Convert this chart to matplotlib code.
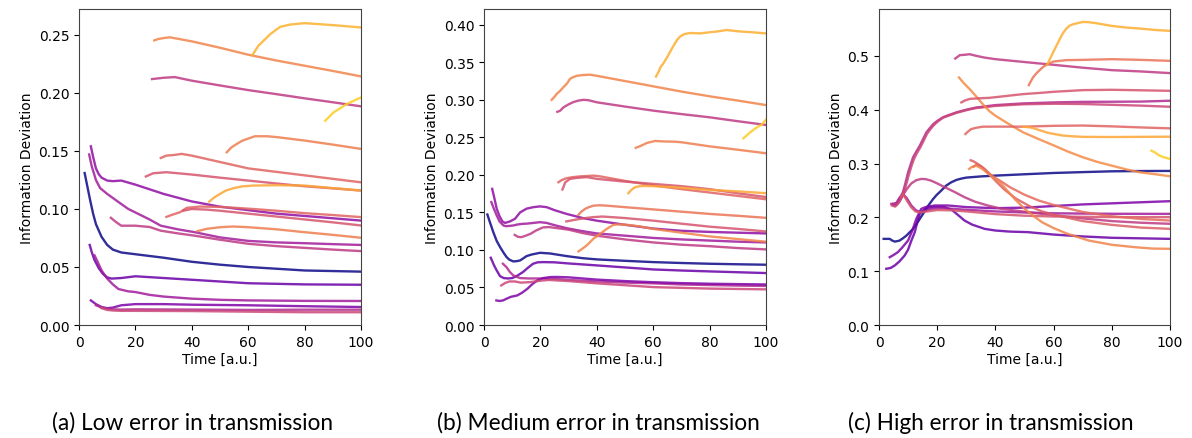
import matplotlib
matplotlib.use("Agg")
import matplotlib.pyplot as plt

# ---------------- (a) low error ----------------
low_lines = [
    ([2, 3, 4, 5, 6, 8, 10, 12, 15, 20, 30, 40, 50, 60, 70, 80, 90, 100],
     [0.131, 0.119, 0.107, 0.096, 0.087, 0.076, 0.069, 0.065, 0.0625, 0.061, 0.058, 0.0545, 0.052, 0.050, 0.0485, 0.047, 0.0465, 0.046]),
    ([4.2, 5, 6, 7, 8, 10, 12, 15, 20, 30, 40, 50, 60, 70, 80, 90, 100],
     [0.154, 0.145, 0.135, 0.130, 0.127, 0.1245, 0.124, 0.1245, 0.121, 0.113, 0.1065, 0.102, 0.099, 0.096, 0.094, 0.092, 0.090]),
    ([3.6, 4.5, 6, 7.5, 10, 14, 17.5, 20, 25, 29, 35, 41, 50, 60, 70, 80, 90, 100],
     [0.147, 0.137, 0.125, 0.118, 0.113, 0.106, 0.100, 0.097, 0.091, 0.0856, 0.0825, 0.080, 0.0755, 0.0725, 0.0712, 0.0705, 0.0697, 0.069]),
    ([11.3, 13, 15, 17, 20, 25, 29, 35, 41, 50, 60, 70, 80, 90, 100],
     [0.0924, 0.089, 0.0856, 0.0856, 0.0856, 0.0845, 0.0813, 0.079, 0.077, 0.0735, 0.070, 0.068, 0.0665, 0.065, 0.0637]),
    ([3.8, 4.5, 5.5, 7, 8.5, 10, 11.5, 15, 20, 30, 40, 50, 60, 80, 100],
     [0.069, 0.063, 0.056, 0.049, 0.044, 0.041, 0.040, 0.0405, 0.042, 0.0405, 0.039, 0.0375, 0.036, 0.035, 0.0347]),
    ([5.5, 6.5, 8, 10, 12, 14, 17.5, 20, 25, 30, 40, 50, 60, 80, 100],
     [0.060, 0.055, 0.047, 0.040, 0.035, 0.031, 0.029, 0.0284, 0.026, 0.0245, 0.0227, 0.0217, 0.0212, 0.0208, 0.0207]),
    ([4.2, 6, 8, 10, 12, 15, 20, 30, 40, 60, 80, 100],
     [0.0212, 0.018, 0.0155, 0.0145, 0.015, 0.017, 0.018, 0.018, 0.0175, 0.017, 0.0162, 0.0155]),
    ([6, 8, 10, 12, 15, 20, 40, 60, 80, 100],
     [0.017, 0.015, 0.014, 0.0135, 0.0133, 0.0135, 0.0133, 0.013, 0.0132, 0.0132]),
    ([8, 10, 12, 15, 20, 40, 60, 80, 100],
     [0.0145, 0.013, 0.0125, 0.0122, 0.0122, 0.012, 0.0115, 0.011, 0.011]),
    ([26.7, 28, 29.9, 32.2, 35.8, 40, 50, 60, 70, 80, 90, 100],
     [0.2453, 0.2465, 0.2473, 0.248, 0.2464, 0.2445, 0.239, 0.233, 0.228, 0.2235, 0.219, 0.2143]),
    ([61.5, 63.6, 66, 67.8, 71.3, 74.9, 80, 90, 100],
     [0.2327, 0.2407, 0.2464, 0.2507, 0.257, 0.259, 0.2602, 0.2585, 0.2565]),
    ([25.9, 29.9, 34, 40, 50, 60, 70, 80, 90, 100],
     [0.212, 0.2131, 0.2137, 0.2106, 0.2065, 0.2025, 0.199, 0.1954, 0.192, 0.1885]),
    ([87.3, 90.3, 95, 100],
     [0.1761, 0.1833, 0.1905, 0.1962]),
    ([52.4, 54, 55.9, 58, 62.4, 66.6, 70, 80, 90, 100],
     [0.1489, 0.153, 0.156, 0.159, 0.1627, 0.1627, 0.162, 0.159, 0.1555, 0.1518]),
    ([29, 31, 33.5, 36.4, 40, 50, 60, 70, 80, 90, 100],
     [0.144, 0.146, 0.1465, 0.1475, 0.146, 0.1405, 0.135, 0.132, 0.129, 0.126, 0.123]),
    ([23.7, 26.3, 31, 40, 50, 60, 70, 80, 90, 100],
     [0.128, 0.1308, 0.1317, 0.1297, 0.127, 0.1245, 0.122, 0.1196, 0.1178, 0.1159]),
    ([46.2, 48, 50, 52, 54.7, 58, 61.8, 70, 80, 90, 100],
     [0.1064, 0.110, 0.113, 0.1158, 0.1179, 0.1195, 0.1202, 0.1205, 0.1202, 0.118, 0.1159]),
    ([31, 33, 35.8, 38.2, 42.9, 50, 60, 70, 80, 90, 100],
     [0.0932, 0.095, 0.0972, 0.101, 0.1021, 0.1018, 0.1003, 0.0985, 0.0964, 0.0948, 0.093]),
    ([37, 40, 45, 50, 60, 70, 80, 90, 100],
     [0.0985, 0.100, 0.0995, 0.0985, 0.096, 0.0935, 0.091, 0.0885, 0.0858]),
    ([42, 45.3, 50, 54.7, 60, 70, 80, 90, 100],
     [0.0809, 0.0829, 0.0843, 0.0849, 0.0843, 0.0825, 0.080, 0.0777, 0.0752]),
]
low_shades = [0.0, 0.3, 0.35, 0.45, 0.2, 0.35, 0.25, 0.4, 0.5,
              0.7, 0.83, 0.45, 0.9, 0.68, 0.6, 0.55, 0.8, 0.6, 0.55, 0.68]

# ---------------- (b) medium error ----------------
medium_lines = [
    ([1.2, 2, 3.3, 4.5, 5.7, 7, 8, 9, 10.4, 11.5, 12.8, 14, 15.1, 17, 19.9, 23.4, 29.3, 35, 40, 50, 60, 70, 80, 90, 100],
     [0.1472, 0.138, 0.1237, 0.112, 0.1038, 0.096, 0.0905, 0.087, 0.0847, 0.085, 0.086, 0.089, 0.0918, 0.094, 0.0962, 0.0953, 0.0918, 0.089, 0.0874, 0.0855, 0.0838, 0.0826, 0.0816, 0.0809, 0.0803]),
    ([2.4, 3.5, 4.5, 5.7, 7, 8.5, 10, 11.5, 13.8, 15.5, 17.4, 19, 21, 25, 30, 40, 50, 60, 70, 80, 90, 100],
     [0.0896, 0.080, 0.0727, 0.065, 0.0625, 0.062, 0.0625, 0.065, 0.0705, 0.076, 0.0816, 0.0835, 0.0838, 0.0835, 0.082, 0.0794, 0.0767, 0.074, 0.0726, 0.0714, 0.0703, 0.0692]),
    ([6.7, 8, 9.2, 10.4, 12.8, 16, 20, 25, 30, 40, 50, 60, 70, 80, 90, 100],
     [0.0816, 0.077, 0.0705, 0.066, 0.0625, 0.062, 0.062, 0.0615, 0.060, 0.058, 0.0565, 0.0555, 0.054, 0.0532, 0.0525, 0.052]),
    ([4.4, 5.5, 6.7, 8, 9.5, 11.8, 13.5, 15.4, 17, 18.9, 21, 23.6, 26, 30, 40, 50, 60, 70, 80, 90, 100],
     [0.0327, 0.032, 0.0327, 0.035, 0.0375, 0.0394, 0.043, 0.0483, 0.054, 0.0594, 0.0625, 0.0639, 0.064, 0.0635, 0.0605, 0.0585, 0.057, 0.0558, 0.055, 0.0545, 0.054]),
    ([6.1, 7.5, 9, 11, 13, 16, 20, 23, 30, 40, 50, 60, 70, 80, 90, 100],
     [0.0527, 0.056, 0.058, 0.058, 0.0565, 0.057, 0.059, 0.060, 0.0585, 0.0555, 0.053, 0.0505, 0.0495, 0.0485, 0.048, 0.0475]),
    ([2.9, 3.5, 4.5, 5.5, 6.5, 7.5, 9.2, 11, 12.8, 15.1, 17.5, 19.9, 22.2, 25, 29.3, 35, 40, 50, 60, 70, 80, 90, 100],
     [0.1814, 0.172, 0.155, 0.145, 0.138, 0.136, 0.138, 0.1415, 0.150, 0.155, 0.157, 0.158, 0.157, 0.153, 0.148, 0.1425, 0.139, 0.1335, 0.1285, 0.1255, 0.124, 0.123, 0.122]),
    ([2.6, 3.5, 4.5, 5.5, 6.9, 7.7, 9, 10.4, 12, 13.8, 15.1, 17.5, 19.9, 22.2, 25, 29.3, 35, 40, 50, 60, 70, 80, 90, 100],
     [0.1637, 0.155, 0.146, 0.138, 0.1326, 0.1317, 0.132, 0.1326, 0.134, 0.1348, 0.135, 0.136, 0.137, 0.136, 0.133, 0.129, 0.125, 0.122, 0.119, 0.116, 0.114, 0.1125, 0.111, 0.110]),
    ([10.9, 12, 13.2, 14.8, 16.5, 18.5, 20.9, 23, 26, 30, 35, 40, 50, 60, 70, 80, 90, 100],
     [0.120, 0.1175, 0.117, 0.119, 0.1215, 0.126, 0.130, 0.1305, 0.129, 0.127, 0.1225, 0.119, 0.114, 0.110, 0.107, 0.105, 0.1025, 0.1007]),
    ([29.2, 32, 35, 38.6, 42, 50, 60, 70, 80, 90, 100],
     [0.138, 0.140, 0.142, 0.1437, 0.1445, 0.1425, 0.139, 0.135, 0.131, 0.128, 0.1246]),
    ([33.5, 34.5, 35.9, 37.2, 38.8, 41, 43.5, 50, 60, 70, 80, 90, 100],
     [0.1468, 0.151, 0.1548, 0.157, 0.159, 0.1595, 0.159, 0.157, 0.154, 0.151, 0.148, 0.1455, 0.1428]),
    ([33.5, 35, 36.4, 37.5, 38.8, 40, 41.2, 43.5, 45.9, 48, 50.7, 55, 60, 70, 80, 90, 100],
     [0.098, 0.102, 0.106, 0.110, 0.115, 0.118, 0.1215, 0.128, 0.1335, 0.134, 0.1335, 0.1315, 0.128, 0.123, 0.118, 0.1145, 0.111]),
    ([24, 25, 25.8, 27, 28.2, 29.5, 30.5, 31.5, 32.9, 35, 37.6, 40, 50, 60, 70, 80, 90, 100],
     [0.300, 0.304, 0.308, 0.312, 0.317, 0.322, 0.328, 0.330, 0.332, 0.333, 0.3335, 0.332, 0.325, 0.318, 0.311, 0.3047, 0.299, 0.293]),
    ([26, 27, 28.2, 30, 31.7, 33.5, 35.3, 37, 40, 50, 60, 70, 80, 90, 100],
     [0.284, 0.2855, 0.290, 0.294, 0.297, 0.299, 0.300, 0.2995, 0.2967, 0.291, 0.2856, 0.281, 0.2767, 0.2715, 0.2665]),
    ([61, 62, 62.5, 63.5, 64.9, 66, 67.2, 68.5, 69.6, 71, 73.1, 76.7, 80, 82.6, 86, 90.9, 95, 100],
     [0.331, 0.338, 0.343, 0.348, 0.3565, 0.364, 0.372, 0.380, 0.3845, 0.3875, 0.389, 0.3885, 0.390, 0.391, 0.393, 0.391, 0.390, 0.3885]),
    ([92, 93, 94.4, 96.8, 98.5, 100],
     [0.2488, 0.252, 0.2568, 0.2634, 0.267, 0.2736]),
    ([53.8, 55.5, 57.8, 60.7, 64, 67.2, 70, 80, 90, 100],
     [0.236, 0.2385, 0.2426, 0.2452, 0.2445, 0.2443, 0.2435, 0.238, 0.2335, 0.2288]),
    ([26.4, 27.5, 29.3, 31.5, 34.1, 38.8, 41.2, 50, 60, 70, 80, 90, 100],
     [0.1902, 0.193, 0.1956, 0.197, 0.198, 0.199, 0.198, 0.192, 0.186, 0.181, 0.1765, 0.172, 0.1675]),
    ([27.8, 28.3, 28.8, 30.5, 33, 36.4, 40, 50, 60, 70, 80, 90, 100],
     [0.1805, 0.185, 0.190, 0.1947, 0.196, 0.197, 0.1947, 0.191, 0.188, 0.185, 0.181, 0.1755, 0.1705]),
    ([51.2, 52, 53, 54, 55.4, 57, 60, 70.6, 80, 90, 100],
     [0.1756, 0.179, 0.1823, 0.184, 0.185, 0.1852, 0.185, 0.1827, 0.180, 0.178, 0.1756]),
]
medium_shades = [0.0, 0.2, 0.4, 0.25, 0.5, 0.3, 0.35, 0.45,
                 0.55, 0.65, 0.7, 0.7, 0.45, 0.82, 0.9, 0.68, 0.6, 0.55, 0.8]

# ---------------- (c) high error ----------------
high_lines = [
    ([1.6, 3.7, 4.5, 5.4, 6.5, 7.1, 8.2, 9.4, 10.5, 11.7, 12.8, 14, 15.2, 16.3, 17.5, 18.6, 19.7, 20.8, 22, 23.1, 24.8, 26.6, 28.3, 30, 35, 40, 50, 60, 70, 80, 90, 100],
     [0.160, 0.160, 0.157, 0.155, 0.156, 0.157, 0.161, 0.166, 0.172, 0.1786, 0.187, 0.197, 0.207, 0.217, 0.226, 0.234, 0.241, 0.2466, 0.253, 0.259, 0.265, 0.2695, 0.272, 0.2738, 0.276, 0.2775, 0.280, 0.2824, 0.284, 0.2855, 0.286, 0.2862]),
    ([2.5, 4, 5.4, 7, 8.8, 10, 11, 12.3, 13.2, 14, 15, 16, 18, 20, 22.6, 25, 27, 29.4, 32, 36.3, 40, 45, 51.2, 60, 70, 80, 90, 100],
     [0.1044, 0.106, 0.1105, 0.118, 0.129, 0.140, 0.155, 0.1725, 0.192, 0.2064, 0.212, 0.216, 0.219, 0.2195, 0.219, 0.214, 0.205, 0.194, 0.1865, 0.1786, 0.1755, 0.1735, 0.1725, 0.168, 0.1645, 0.162, 0.161, 0.160]),
    ([3.7, 5, 6.5, 8, 10, 11.5, 12.8, 14.5, 16, 19.1, 23.7, 30, 40, 50, 60, 70, 80, 90, 100],
     [0.126, 0.130, 0.1354, 0.144, 0.157, 0.176, 0.197, 0.2157, 0.219, 0.222, 0.222, 0.219, 0.217, 0.218, 0.221, 0.224, 0.226, 0.228, 0.230]),
    ([4.8, 6, 7, 8.2, 9.5, 11.1, 12.5, 14, 16, 18, 22, 30, 40, 50, 60, 70, 80, 90, 100],
     [0.225, 0.227, 0.236, 0.2435, 0.236, 0.222, 0.214, 0.2096, 0.212, 0.2157, 0.217, 0.214, 0.211, 0.209, 0.2075, 0.207, 0.2066, 0.2065, 0.2064]),
    ([4.8, 6, 7, 8.2, 9.5, 11.1, 12.8, 14.5, 16, 18, 20, 22.6, 26, 29.4, 33, 37.4, 42, 51.2, 60, 70, 80, 90, 100],
     [0.225, 0.223, 0.229, 0.241, 0.252, 0.263, 0.269, 0.2713, 0.271, 0.268, 0.263, 0.256, 0.247, 0.2374, 0.229, 0.222, 0.216, 0.2096, 0.204, 0.198, 0.193, 0.190, 0.188]),
    ([4.2, 5.4, 6.5, 7.1, 8.2, 9, 10, 11, 11.7, 12.8, 14, 15.2, 16.3, 17.5, 18.6, 20, 22, 24, 26.6, 30, 33.4, 40, 49.5, 60, 70, 80, 90, 100],
     [0.225, 0.222, 0.228, 0.234, 0.2466, 0.262, 0.2837, 0.300, 0.3115, 0.322, 0.333, 0.346, 0.358, 0.366, 0.373, 0.379, 0.386, 0.390, 0.395, 0.400, 0.404, 0.4085, 0.4116, 0.4135, 0.4145, 0.4147, 0.415, 0.4166]),
    ([4.4, 5.6, 6.6, 7.3, 8.4, 9.2, 10.2, 11.2, 12, 13, 14.2, 15.4, 16.5, 17.7, 18.8, 20.2, 22, 24, 26.6, 30, 33.4, 40, 49.5, 60, 70, 80, 90, 100],
     [0.222, 0.220, 0.226, 0.232, 0.244, 0.258, 0.278, 0.296, 0.308, 0.319, 0.330, 0.343, 0.355, 0.364, 0.371, 0.378, 0.385, 0.389, 0.394, 0.399, 0.403, 0.407, 0.410, 0.411, 0.4105, 0.409, 0.4075, 0.4054]),
    ([7.5, 8.2, 9.5, 11, 12.5, 14, 16, 20, 25, 30, 40, 50, 60, 70, 80, 90, 100],
     [0.238, 0.2435, 0.232, 0.219, 0.211, 0.209, 0.2105, 0.2135, 0.213, 0.211, 0.206, 0.203, 0.2015, 0.201, 0.2005, 0.2003, 0.2003]),
    ([27.5, 29, 31.2, 33.5, 35.7, 38, 40, 45, 49.5, 55, 60, 65, 70.1, 75, 80, 85, 89.6, 95, 100],
     [0.4598, 0.450, 0.438, 0.424, 0.410, 0.397, 0.3888, 0.372, 0.358, 0.345, 0.3337, 0.322, 0.3115, 0.303, 0.296, 0.289, 0.2837, 0.280, 0.2763]),
    ([26.2, 27, 27.7, 29.5, 31.2, 33.4, 36, 40, 50, 60, 70, 80, 90, 100],
     [0.495, 0.498, 0.5012, 0.502, 0.503, 0.500, 0.497, 0.4938, 0.4885, 0.4833, 0.478, 0.4734, 0.471, 0.4679]),
    ([51.5, 52.2, 52.9, 54, 55.2, 56.3, 57.5, 60, 64.4, 70, 80, 90, 100],
     [0.4456, 0.453, 0.4598, 0.467, 0.4734, 0.479, 0.4833, 0.4895, 0.492, 0.4925, 0.4938, 0.4925, 0.4907]),
    ([57.8, 58.8, 59.8, 61, 62.1, 63.2, 64.4, 65.5, 66.7, 68.5, 70.1, 72, 74.7, 80, 85, 89.6, 95, 100],
     [0.4833, 0.495, 0.506, 0.519, 0.531, 0.542, 0.5507, 0.556, 0.5587, 0.561, 0.563, 0.5625, 0.5606, 0.5556, 0.5525, 0.5507, 0.548, 0.5464]),
    ([28.3, 29.5, 31.2, 34, 38, 43, 49.5, 55, 60, 70.1, 80, 90, 100],
     [0.4135, 0.417, 0.420, 0.421, 0.422, 0.425, 0.4289, 0.431, 0.4332, 0.4363, 0.4369, 0.436, 0.435]),
    ([29.7, 30.5, 31.7, 33.5, 35.7, 40, 49.5, 60, 70, 80, 90, 100],
     [0.3548, 0.359, 0.364, 0.3665, 0.3684, 0.3685, 0.3684, 0.370, 0.3705, 0.369, 0.367, 0.3653]),
    ([49.5, 52, 54, 56, 58, 60, 63, 66.7, 70, 80, 90, 100],
     [0.3684, 0.367, 0.364, 0.3605, 0.357, 0.355, 0.352, 0.3505, 0.3495, 0.3492, 0.3495, 0.3498]),
    ([93.6, 95, 96.4, 98, 100],
     [0.3239, 0.320, 0.3146, 0.3115, 0.3084]),
    ([32.5, 33.5, 35, 36.5, 38, 40, 41.6, 45, 50, 55, 60, 70, 80, 90, 100],
     [0.294, 0.298, 0.295, 0.289, 0.281, 0.273, 0.268, 0.256, 0.242, 0.231, 0.223, 0.210, 0.202, 0.197, 0.194]),
    ([31.5, 32.5, 34, 35.5, 37, 38.5, 40, 43, 47, 52, 56, 60, 70, 80, 90, 100],
     [0.306, 0.304, 0.299, 0.293, 0.285, 0.277, 0.268, 0.252, 0.235, 0.220, 0.211, 0.205, 0.193, 0.186, 0.181, 0.1786]),
    ([31, 32, 33.4, 34.5, 36, 38, 40, 41.6, 44, 47, 50, 53, 56, 60, 64.5, 72, 80, 88, 94, 100],
     [0.290, 0.294, 0.296, 0.293, 0.288, 0.279, 0.270, 0.265, 0.250, 0.232, 0.216, 0.203, 0.191, 0.180, 0.170, 0.157, 0.149, 0.1445, 0.142, 0.1415]),
]
high_shades = [0.0, 0.2, 0.25, 0.35, 0.45, 0.4, 0.5, 0.55,
               0.72, 0.45, 0.65, 0.82, 0.55, 0.6, 0.8, 0.9, 0.62, 0.58, 0.7]

panel_ylims = [0.2724, 0.421, 0.587]
captions = ["(a) Low error in transmission",
            "(b) Medium error in transmission",
            "(c) High error in transmission"]

fig = plt.figure(figsize=(11.92, 4.39), dpi=100)
axes_boxes = [
    [79 / 1192, 1 - 326 / 439, 282 / 1192, 316 / 439],
    [484 / 1192, 1 - 326 / 439, 282 / 1192, 316 / 439],
    [879 / 1192, 1 - 326 / 439, 291 / 1192, 316 / 439],
]
caption_x = [193 / 1192, 598 / 1192, 991 / 1192]

for box, lines, shades, ytop, cap, cx in zip(
        axes_boxes, [low_lines, medium_lines, high_lines],
        [low_shades, medium_shades, high_shades], panel_ylims, captions, caption_x):
    ax = fig.add_axes(box)
    for (t, y), s in zip(lines, shades):
        ax.plot(t, y, color=plt.cm.plasma(s), lw=1.7, alpha=0.85)
    ax.set_xlim(0, 100)
    ax.set_ylim(0, ytop)
    ax.set_xlabel("Time [a.u.]", fontsize=10, labelpad=2)
    ax.set_ylabel("Information Deviation", fontsize=10, labelpad=3)
    ax.tick_params(labelsize=10)
    for sp in ax.spines.values():
        sp.set_color("#444444")
    fig.text(cx, 0.036, cap, ha="center", va="center", fontsize=16.3, family="Lato")

fig.savefig("out.png", dpi=100)
